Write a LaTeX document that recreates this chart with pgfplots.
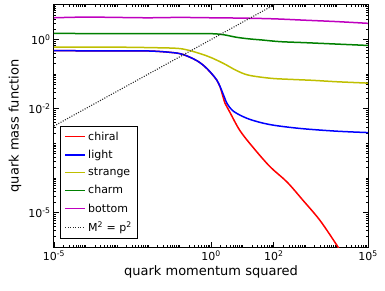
\documentclass[border=0pt]{standalone}
\usepackage{fontspec}
\setmainfont{DejaVu Sans}
\usepackage{pgfplots}
\pgfplotsset{compat=1.18}
\definecolor{mplr}{rgb}{1,0,0}
\definecolor{mplb}{rgb}{0,0,1}
\definecolor{mply}{rgb}{0.75,0.75,0}
\definecolor{mplg}{rgb}{0,0.5,0}
\definecolor{mplm}{rgb}{0.75,0,0.75}
\begin{document}
\begin{tikzpicture}
\path[use as bounding box] (-54pt,-44pt) rectangle (331pt,247pt);
\begin{axis}[
  scale only axis, width=314pt, height=242pt,
  xmode=log, ymode=log,
  xmin=1e-5, xmax=1e5, ymin=1e-6, ymax=10,
  xtick={1e-5,1,100,1e5},
  xticklabels={10\textsuperscript{-5},10\textsuperscript{0},10\textsuperscript{2},10\textsuperscript{5}},
  ytick={1e-5,1e-2,1},
  yticklabels={10\textsuperscript{-5},10\textsuperscript{-2},10\textsuperscript{0}},
  minor xtick={2e-5,3e-5,4e-5,5e-5,6e-5,7e-5,8e-5,9e-5,
    1e-4,2e-4,3e-4,4e-4,5e-4,6e-4,7e-4,8e-4,9e-4,
    1e-3,2e-3,3e-3,4e-3,5e-3,6e-3,7e-3,8e-3,9e-3,
    1e-2,2e-2,3e-2,4e-2,5e-2,6e-2,7e-2,8e-2,9e-2,
    0.1,0.2,0.3,0.4,0.5,0.6,0.7,0.8,0.9,
    2,3,4,5,6,7,8,9,
    10,20,30,40,50,60,70,80,90,
    200,300,400,500,600,700,800,900,
    1000,2000,3000,4000,5000,6000,7000,8000,9000,
    1e4,2e4,3e4,4e4,5e4,6e4,7e4,8e4,9e4},
  minor ytick={2e-6,3e-6,4e-6,5e-6,6e-6,7e-6,8e-6,9e-6,
    2e-5,3e-5,4e-5,5e-5,6e-5,7e-5,8e-5,9e-5,
    1e-4,2e-4,3e-4,4e-4,5e-4,6e-4,7e-4,8e-4,9e-4,
    1e-3,2e-3,3e-3,4e-3,5e-3,6e-3,7e-3,8e-3,9e-3,
    2e-2,3e-2,4e-2,5e-2,6e-2,7e-2,8e-2,9e-2,
    0.1,0.2,0.3,0.4,0.5,0.6,0.7,0.8,0.9,
    2,3,4,5,6,7,8,9},
  major tick length=5pt, minor tick length=2pt,
  every tick/.style={black, line width=0.9pt},
  every minor tick/.style={black, line width=0.5pt},
  axis line style={line width=1pt},
  tick label style={font=\fontsize{11}{13}\selectfont},
  xlabel={quark momentum squared},
  ylabel={quark mass function},
  label style={font=\fontsize{13}{15}\selectfont},
  xlabel style={yshift=2pt},
  legend style={at={(0.02,0.035)}, anchor=south west, draw=black, line width=0.9pt,
    font=\fontsize{11}{13}\selectfont, row sep=4.3pt, inner xsep=4pt, inner ysep=3pt},
  legend cell align=left,
  legend image code/.code={\draw[#1] (0pt,0pt) -- (20pt,0pt);},
]
\addplot[mplr, line width=1.5pt, smooth, tension=0.55] coordinates {
 (1e-5,0.479) (1e-3,0.468) (1e-2,0.468) (0.05,0.427) (0.126,0.372) (0.355,0.245)
 (0.741,0.145) (1.55,0.0661) (1.95,0.0427) (2.82,0.0141) (3.98,0.00794)
 (8.32,0.00234) (21.9,7.59e-4) (75.9,2.1e-4) (263,7.6e-5) (851,2.24e-5)
 (2951,5.89e-6) (10230,1.12e-6) (11220,9.5e-7)};
\addlegendentry{chiral}
\addplot[mplb, line width=1.5pt, smooth, tension=0.55] coordinates {
 (1e-5,0.479) (1e-3,0.468) (1e-2,0.468) (0.05,0.427) (0.126,0.372) (0.355,0.245)
 (0.741,0.145) (1.55,0.0661) (2.40,0.0275) (3.2,0.0145) (4.5,0.0095) (6.76,0.00724)
 (17.4,0.0049) (75.9,0.00347) (676,0.00269) (1e4,0.00224) (1e5,0.00204)};
\addlegendentry{light}
\addplot[mply, line width=1.5pt, smooth, tension=0.55] coordinates {
 (1e-5,0.603) (1e-3,0.603) (0.0316,0.575) (0.1,0.55) (0.214,0.479) (0.5,0.38)
 (1,0.302) (2.51,0.204) (6.31,0.129) (15.8,0.0933) (79.4,0.0759) (316,0.0708)
 (1778,0.0661) (1e4,0.0603) (1e5,0.055)};
\addlegendentry{strange}
\addplot[mplg, line width=1.5pt, smooth, tension=0.55] coordinates {
 (1e-5,1.51) (1e-3,1.48) (0.1,1.48) (1,1.48) (2.51,1.38) (6.31,1.17) (15.8,1.05)
 (39.8,0.977) (158,0.871) (1000,0.813) (1e4,0.741) (1e5,0.676)};
\addlegendentry{charm}
\addplot[mplm, line width=1.5pt, smooth, tension=0.55] coordinates {
 (1e-5,4.27) (1e-4,4.47) (1e-3,4.37) (1e-2,4.27) (0.1,4.37) (1,4.27) (10,4.17)
 (100,3.98) (1000,3.63) (1e4,3.31) (1e5,2.95)};
\addlegendentry{bottom}
\addplot[black!85, line width=1.1pt, dash pattern=on 1pt off 1.5pt] coordinates {
 (1e-5,0.00316) (1e3,31.6)};
\addlegendentry{M\textsuperscript{2} = p\textsuperscript{2}}
\end{axis}
\end{tikzpicture}
\end{document}
